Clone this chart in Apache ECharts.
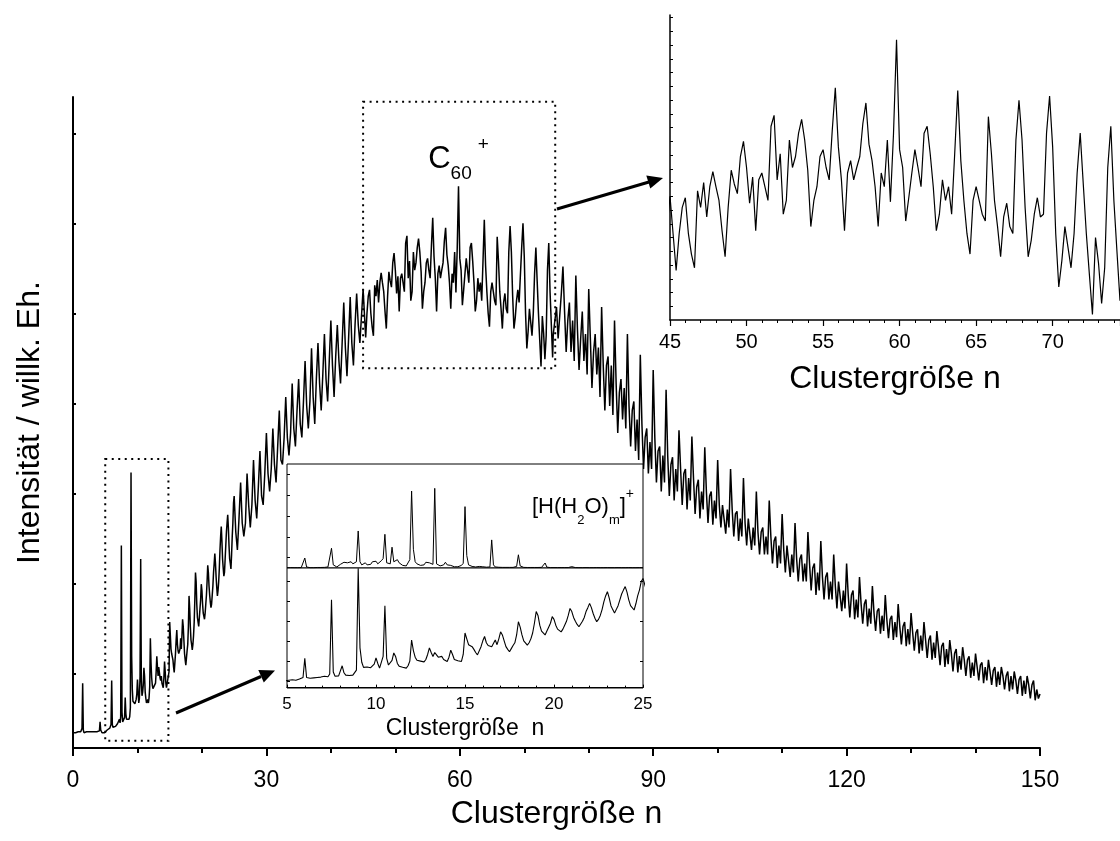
<!DOCTYPE html>
<html>
<head>
<meta charset="utf-8">
<script src="https://cdn.jsdelivr.net/npm/echarts@6/dist/echarts.min.js"></script>
<style>
  html, body { margin: 0; padding: 0; background: #fff; }
  #chart { width: 1120px; height: 841px; }
</style>
</head>
<body>
<div id="chart"></div>
<script>
// Carbon cluster cation spectrum, intensity (arb. units) against cluster size n.
// Each section is sampled on its own fixed n step.
const specA_start = 0.0, specA_step = 0.1;
const specA = [
  1.7, 1.6, 1.7, 1.8, 1.7, 1.6, 1.7, 1.7, 1.8, 1.7,
  1.6, 1.7, 1.8, 1.7, 2.2, 7.2, 2.0, 1.7, 1.6, 1.7,
  1.7, 1.8, 1.6, 1.7, 1.7, 1.8, 1.7, 1.6, 1.7, 1.8,
  1.7, 1.6, 1.7, 1.8, 1.7, 1.7, 1.6, 1.8, 1.7, 1.7,
  1.8, 1.9, 2.9, 2.0, 1.8, 1.7, 1.8, 1.9, 1.8, 1.7,
  1.8, 1.9, 1.8, 2.0, 2.1, 1.9, 2.0, 2.2, 2.1, 2.6,
  7.5, 2.6, 2.3, 2.4, 2.2, 2.5, 2.4, 2.6, 2.5, 2.7,
  2.6, 2.9, 3.2, 2.8, 3.5, 22.5, 4.0, 2.9, 2.8, 3.0,
  3.4, 5.6, 3.8, 3.2, 3.3, 3.1, 3.4, 3.2, 3.5, 4.5,
  30.6, 10.2, 6.5, 5.2, 5.0, 5.3, 4.9, 5.1, 5.4, 6.0,
  7.6, 6.2, 5.0, 5.5, 8.0, 21.0, 7.5, 5.8, 6.2, 7.0,
  8.9, 8.0, 6.2, 5.5, 5.0, 5.2, 5.4, 5.0, 5.6, 6.8,
  12.2, 9.5, 7.8, 7.0, 6.6, 6.8, 6.5, 6.6, 7.2, 8.5,
  10.2, 9.0, 8.0, 9.0, 8.4, 7.8, 7.5, 8.0, 7.2, 7.0,
  6.7, 7.8, 9.6, 8.5, 7.2, 6.7, 6.9, 6.6, 6.7, 8.5,
  14.0, 12.5, 11.0, 10.5, 10.5, 9.8, 9.0, 8.4, 8.6, 10.5,
  12.0, 13.1, 11.5, 10.8, 10.5, 10.5, 11.0, 12.2, 11.0, 12.5,
  14.3, 13.5, 12.0, 10.5, 9.8, 9.2, 10.0, 10.8, 11.5, 13.5,
  16.9, 15.5, 13.5, 12.0, 11.5, 10.9, 11.5, 12.5, 14.0, 16.5,
  19.5, 18.5, 16.0, 14.5, 14.0, 13.5, 14.5, 15.5, 16.5, 18.2,
  17.5, 16.0, 15.0, 14.8, 14.3, 15.0, 16.0, 17.0, 18.5, 20.3,
  19.5, 18.0, 17.0, 16.2, 15.6, 16.0, 17.0, 18.0, 19.5, 20.5,
  21.6, 20.5, 19.0, 17.8, 16.9, 17.5, 18.5, 20.0, 22.0, 23.5,
  24.6, 23.0, 21.0, 20.0, 19.1, 19.5, 21.0, 22.5, 24.0, 25.0,
  25.9, 24.5, 22.5, 21.0, 20.5, 19.9, 21.5, 23.5, 25.0, 27.2,
  28.0
];
const specB_start = 25.25, specB_step = 0.25;
const specB = [
  24.0, 22.0, 25.5, 29.5,  25.0, 23.5, 25.0, 30.5,  27.0, 24.5, 27.0, 32.0,
  27.5, 25.5, 29.0, 33.0,  28.0, 27.0, 30.5, 35.0,  30.5, 28.5, 31.0, 35.5,
  31.5, 29.5, 33.5, 37.5,  32.0, 31.5, 34.5, 39.0,  34.5, 32.5, 35.0, 40.5,
  35.5, 33.5, 37.5, 41.0,  36.0, 34.5, 38.5, 43.0,  38.0, 35.5, 38.5, 44.4,
  39.0, 36.0, 41.0, 45.0,  40.5, 37.5, 41.5, 46.0,  41.0, 38.5, 43.0, 47.5,
  42.5, 39.0, 43.5, 47.0,  43.0, 40.5, 45.0, 49.5,  44.5, 41.3, 45.5, 50.1,
  45.0, 42.5, 47.0, 50.5,  47.0, 45.0, 48.0, 51.0
];
const specC_start = 45.2, specC_step = 0.2;
const specC = [
  48.3, 45.6, 48.3, 50.2, 50.9, 48.3, 46.8, 45.8, 51.4, 50.2,
  52.0, 49.5, 51.7, 52.8, 51.7, 50.7, 48.5, 46.6, 50.2, 52.9,
  51.9, 51.2, 53.9, 55.0, 53.1, 50.5, 52.4, 48.5, 52.2, 52.7,
  51.7, 50.7, 56.1, 56.9, 52.2, 54.1, 49.7, 50.7, 55.1, 53.1,
  53.9, 55.6, 56.6, 55.1, 52.9, 48.8, 50.7, 51.7, 53.9, 54.4,
  53.1, 52.2, 55.8, 58.9, 54.6, 52.2, 48.5, 52.7, 53.6, 52.2,
  53.1, 53.9, 56.3, 57.8, 54.8, 53.6, 51.7, 48.8, 52.7, 51.7,
  55.1, 50.6, 55.5, 62.4, 54.4, 53.1, 49.2, 50.9, 52.7, 54.4,
  53.1, 51.7, 55.6, 56.1, 54.1, 51.7, 48.5, 49.7, 52.2, 50.7,
  51.7, 49.7, 54.1, 58.7, 53.6, 50.7, 48.3, 46.8, 50.7, 51.7,
  50.7, 49.7, 49.2, 56.8, 54.1, 50.7, 48.8, 46.6, 49.5, 50.5,
  48.8, 48.3, 55.1, 58.0, 55.1, 50.2, 46.6, 47.8, 49.7, 50.9,
  49.5, 49.7, 55.6, 58.3, 54.6, 48.3, 44.4, 46.3, 48.8, 47.3,
  45.8, 48.3, 52.7, 55.6, 51.9, 48.3, 45.3, 42.4, 48.0, 46.1,
  43.2, 45.8, 53.1, 56.1, 50.7, 47.0, 43.4
];
const specD_start = 74.5, specD_step = 0.25;
const specD = [
  46.0, 47.5, 49.0, 45.5, 48.0, 50.5,
  53.5, 48.5, 44.0, 47.5, 49.5, 44.0, 47.5, 43.0,
  52.5, 46.5, 42.0, 45.5, 48.5, 43.0, 46.0, 41.5,
  51.0, 45.5, 40.0, 44.0, 46.0, 41.5, 44.5, 39.0,
  49.0, 42.5, 37.5, 42.5, 43.5, 38.0, 42.5, 37.0,
  47.5, 40.5, 35.0, 39.5, 41.0, 36.5, 40.0, 35.5,
  46.0, 38.0, 33.5, 37.5, 38.5, 33.0, 36.5, 32.0,
  43.7, 36.0, 31.0, 34.5, 35.5, 30.5, 34.0, 31.0,
  42.0, 34.5, 29.5, 33.0, 33.5, 28.5, 32.5, 29.5,
  39.8, 32.5, 28.0, 31.5, 32.3, 27.5, 31.0, 28.5,
  35.3, 31.0, 27.0, 30.5, 31.0, 26.5, 30.0, 27.5,
  34.6, 30.0, 26.0, 29.0, 29.8, 25.5, 28.5, 26.5,
  33.4, 28.5, 25.0, 28.0, 28.5, 24.8, 27.5, 25.5,
  32.0, 27.0, 24.5, 27.0, 27.2, 23.8, 26.5, 24.5,
  31.0, 26.5, 23.5, 26.0, 26.3, 23.0, 25.5, 23.5,
  30.0, 25.0, 22.5, 25.5, 25.5, 22.0, 24.5, 22.5,
  28.5, 24.0, 21.5, 24.0, 24.5, 21.5, 23.5, 21.5,
  27.5, 23.5, 20.5, 23.0, 23.5, 20.0, 22.5, 20.5,
  26.0, 22.0, 19.5, 22.5, 22.5, 19.0, 21.5, 19.5,
  25.0, 21.0, 18.5, 21.0, 21.5, 18.5, 20.5, 18.5,
  24.0, 20.5, 17.5, 20.0, 20.5, 17.0, 19.5, 17.5,
  23.0, 19.0, 16.5, 19.0, 19.5, 16.5, 18.5, 16.5,
  21.5, 18.0, 15.5, 18.5, 18.5, 15.2, 17.5, 15.5,
  20.5, 17.0, 14.5, 17.0, 17.5, 14.3, 16.5, 14.5,
  19.0, 16.0, 13.8, 16.0, 16.5, 13.5, 15.5, 13.8,
  18.0, 15.0, 13.0, 15.2, 15.5, 12.7, 14.7, 13.0,
  17.0, 14.2, 12.2, 14.3, 14.7, 12.0, 14.0, 12.3,
  16.0, 13.5, 11.5, 13.5, 14.0, 11.3, 13.2, 11.5,
  15.0, 12.8, 10.8, 12.8, 13.2, 10.5, 12.5, 10.8,
  14.0, 12.0, 10.0, 12.0, 12.5, 9.8, 11.7, 10.0,
  13.0, 11.2, 9.2, 11.3, 11.7, 9.0, 11.0, 9.3,
  12.0, 10.5, 8.5, 10.5, 11.0, 8.4, 10.2, 8.7,
  11.2, 9.8, 8.0, 9.8, 10.2, 7.8, 9.5, 8.0,
  10.5, 9.0, 7.5, 9.2, 9.5, 7.2, 9.0, 7.5,
  9.8, 8.5, 7.0, 8.6, 9.0, 6.8, 8.5, 7.0,
  9.0, 8.0, 6.5, 8.0, 8.5, 6.3, 8.0, 6.5,
  8.5, 7.5, 6.0, 7.6, 8.0, 5.8, 7.5, 6.0,
  8.0, 7.0, 5.5, 7.0, 7.5, 5.3, 6.5, 5.5,
  6.0
];

// Protonated water clusters [H(H2O)m]+ on the same n scale
const waterStart = 5.0, waterStep = 0.1;
const water = [
  0.3, 0.3, 0.4, 0.3, 0.3, 0.4, 0.3, 0.3, 0.4, 0.5,
  9.6, 1.0, 0.4, 0.3, 0.4, 0.3, 0.4, 0.5, 0.4, 0.5,
  0.5, 0.6, 0.8, 1.0, 2.5, 19.0, 3.0, 1.2, 1.0, 1.5,
  3.5, 4.5, 5.5, 6.0, 5.0, 5.5, 6.0, 4.0, 3.0, 6.0,
  35.6, 6.0, 3.0, 3.5, 5.0, 3.0, 2.5, 3.5, 6.0, 5.0,
  6.5, 4.0, 5.5, 7.0, 9.0, 32.4, 5.0, 3.5, 4.0, 20.0,
  6.0, 7.5, 8.0, 5.0, 4.0, 2.5, 2.0, 2.0, 3.0, 8.0,
  74.0, 18.0, 6.0, 4.0, 3.0, 2.5, 2.0, 3.0, 5.5, 4.0,
  5.0, 4.5, 3.5, 76.6, 4.0, 2.5, 2.0, 2.0, 3.0, 5.5,
  3.0, 2.0, 2.5, 1.5, 1.2, 1.0, 1.2, 1.5, 2.5, 4.5,
  59.0, 12.0, 3.0, 2.0, 1.5, 1.0, 1.0, 1.2, 1.5, 2.5,
  1.2, 1.0, 0.8, 0.8, 1.0, 27.0, 3.0, 1.0, 0.8, 0.7,
  0.6, 0.6, 0.5, 0.6, 0.5, 0.6, 0.5, 0.6, 0.8, 1.5,
  12.7, 2.0, 0.8, 0.6, 0.5, 0.5, 0.4, 0.5, 0.4, 0.5,
  0.4, 0.5, 0.4, 0.6, 1.0, 4.8, 0.8, 0.5, 0.4, 0.4,
  0.4, 0.3, 0.4, 0.3, 0.4, 0.3, 0.4, 0.3, 0.4, 0.5,
  1.3, 0.5, 0.4, 0.3, 0.3, 0.4, 0.3, 0.3, 0.4, 0.3,
  0.3, 0.4, 0.3, 0.3, 0.4, 0.3, 0.3, 0.4, 0.3, 0.3,
  0.4, 0.3, 0.3, 0.4, 0.3, 0.3, 0.4, 0.3, 0.3, 0.4,
  0.3, 0.3, 0.4, 0.3, 0.3, 0.4, 0.3, 0.3, 0.4, 0.3,
  0.3
];
// Water cluster peaks (position n) and their size m
const waterPeakN = [6.0, 7.5, 9.0, 10.5, 12.0, 13.5, 15.0, 16.5, 18.0];
const waterPeakM = [4, 5, 6, 7, 8, 9, 10, 11, 12];

// Fullerene peak
const c60N = 59.8;

// Enlarged ranges [nMin, nMax, intensityMin, intensityMax]
const zoomC60 = [45, 74.8, 42.2, 71.8];
const zoomLow = [5, 14.8, 0.8, 32.1];

function sampled(start, step, values) {
  return values.map((v, i) => [Math.round((start + i * step) * 100) / 100, v]);
}
function pointAt(data, n) {
  let best = data[0];
  for (const p of data) if (Math.abs(p[0] - n) < Math.abs(best[0] - n)) best = p;
  return best;
}

const spectrum = [].concat(
  sampled(specA_start, specA_step, specA),
  sampled(specB_start, specB_step, specB),
  sampled(specC_start, specC_step, specC),
  sampled(specD_start, specD_step, specD)
);
const waterSpec = sampled(waterStart, waterStep, water);

const FONT = '"Liberation Sans", Arial, sans-serif';
const BLACK = '#000';

function range(a, b, s) { const r = []; for (let v = a; v <= b + 1e-9; v += s) r.push(Math.round(v * 100) / 100); return r; }

const chart = echarts.init(document.getElementById('chart'), null, { renderer: 'canvas' });

const hiddenAxis = { axisLine: { show: false }, axisTick: { show: false }, axisLabel: { show: false }, splitLine: { show: false } };

const option = {
  animation: false,
  backgroundColor: '#fff',
  textStyle: { fontFamily: FONT, color: BLACK },
  title: [{
    text: '{t|[H(H}{s|2}{t|O)}{s|m}{t|]}{p|+}',
    left: 527, top: 482, zlevel: 1, z: 10,
    textStyle: {
      fontWeight: 'normal',
      rich: {
        t: { fontSize: 22, fontWeight: 'normal', fontFamily: FONT, color: BLACK, lineHeight: 40 },
        s: { fontSize: 13, fontWeight: 'normal', fontFamily: FONT, color: BLACK, lineHeight: 15, verticalAlign: 'bottom' },
        p: { fontSize: 14, fontWeight: 'normal', fontFamily: FONT, color: BLACK, lineHeight: 20, verticalAlign: 'top' }
      }
    }
  }],
  grid: [
    { left: 73, top: 97, width: 967, height: 651, outerBoundsMode: 'none' },
    { left: 670, top: 15, width: 450, height: 305, show: true, backgroundColor: '#fff', borderWidth: 0, zlevel: 1, outerBoundsMode: 'none' },
    { left: 287, top: 464, width: 356, height: 104, show: true, backgroundColor: '#fff', borderColor: BLACK, borderWidth: 1, zlevel: 1, outerBoundsMode: 'none' },
    { left: 287, top: 568, width: 356, height: 120, show: true, backgroundColor: '#fff', borderColor: BLACK, borderWidth: 1, zlevel: 1, outerBoundsMode: 'none' }
  ],
  xAxis: [
    {
      gridIndex: 0, type: 'value', min: 0, max: 150, interval: 30,
      axisLine: { lineStyle: { color: BLACK, width: 2 } },
      axisTick: { length: 8, lineStyle: { color: BLACK, width: 2 } },
      minorTick: { show: true, splitNumber: 3, length: 5, lineStyle: { color: BLACK, width: 2 } },
      axisLabel: { fontSize: 23, color: BLACK, fontFamily: FONT, margin: 21 },
      splitLine: { show: false }, minorSplitLine: { show: false },
      name: 'Clustergröße n', nameLocation: 'middle', nameGap: 50,
      nameTextStyle: { fontSize: 32, color: BLACK, fontFamily: FONT }
    },
    {
      gridIndex: 1, type: 'value', min: 45, max: 74.4, interval: 5, zlevel: 1,
      axisLine: { lineStyle: { color: BLACK, width: 1.5 } },
      axisTick: { length: 6, lineStyle: { color: BLACK, width: 1.2 } },
      minorTick: { show: true, splitNumber: 5, length: 3, lineStyle: { color: BLACK, width: 1 } },
      axisLabel: { fontSize: 20, color: BLACK, fontFamily: FONT, margin: 12, showMaxLabel: false },
      splitLine: { show: false }, minorSplitLine: { show: false },
      name: 'Clustergröße n', nameLocation: 'middle', nameGap: 43,
      nameTextStyle: { fontSize: 32, color: BLACK, fontFamily: FONT }
    },
    Object.assign({ gridIndex: 2, type: 'value', min: 5, max: 25, zlevel: 1 }, hiddenAxis),
    {
      gridIndex: 3, type: 'value', min: 5, max: 25, interval: 5, zlevel: 1,
      axisLine: { lineStyle: { color: BLACK, width: 1 } },
      axisTick: { inside: true, length: 3, lineStyle: { color: BLACK, width: 1 } },
      minorTick: { show: true, splitNumber: 5, length: 2, lineStyle: { color: BLACK, width: 1 } },
      axisLabel: { fontSize: 17, color: BLACK, fontFamily: FONT, margin: 8 },
      splitLine: { show: false }, minorSplitLine: { show: false },
      name: 'Clustergröße  n', nameLocation: 'middle', nameGap: 29,
      nameTextStyle: { fontSize: 23, color: BLACK, fontFamily: FONT }
    }
  ],
  yAxis: [
    {
      gridIndex: 0, type: 'value', min: 0, max: 72.33,
      axisLine: { show: true, lineStyle: { color: BLACK, width: 2 } },
      axisTick: { show: true, inside: true, length: 3, customValues: range(8.2, 68.2, 10), lineStyle: { color: BLACK, width: 2 } },
      axisLabel: { show: false }, splitLine: { show: false },
      name: 'Intensität / willk. Eh.', nameLocation: 'middle', nameGap: 27,
      nameTextStyle: { fontSize: 32, color: BLACK, fontFamily: FONT }
    },
    {
      gridIndex: 1, type: 'value', min: 42, max: 64.2, zlevel: 1,
      axisLine: { show: true, lineStyle: { color: BLACK, width: 1.5 } },
      axisTick: { show: true, inside: true, length: 3, customValues: range(43, 64, 1), lineStyle: { color: BLACK, width: 1 } },
      axisLabel: { show: false }, splitLine: { show: false }
    },
    {
      gridIndex: 2, type: 'value', min: 0, max: 100, zlevel: 1,
      axisLine: { show: false },
      axisTick: { show: true, inside: true, length: 3, customValues: [10, 30, 50, 70, 90], lineStyle: { color: BLACK, width: 1 } },
      axisLabel: { show: false }, splitLine: { show: false }
    },
    {
      gridIndex: 3, type: 'value', min: -0.1, max: 30.67, zlevel: 1,
      axisLine: { show: false },
      axisTick: { show: true, inside: true, length: 3, customValues: [1.6, 6.7, 11.9, 17.0, 22.1, 27.2], lineStyle: { color: BLACK, width: 1 } },
      axisLabel: { show: false }, splitLine: { show: false }
    },
    {
      gridIndex: 3, type: 'value', position: 'right', min: -0.1, max: 30.67, zlevel: 1,
      axisLine: { show: false },
      axisTick: { show: true, inside: true, length: 3, customValues: [6.7, 17.0, 27.2], lineStyle: { color: BLACK, width: 1 } },
      axisLabel: { show: false }, splitLine: { show: false }
    }
  ],
  series: [
    {
      name: 'Spektrum', type: 'line', xAxisIndex: 0, yAxisIndex: 0,
      data: spectrum, showSymbol: false, symbol: 'none',
      lineStyle: { color: BLACK, width: 1.5 },
      markArea: {
        silent: true,
        itemStyle: { color: 'rgba(0,0,0,0)', borderColor: BLACK, borderWidth: 2, borderType: [2, 4.5] },
        data: [
          [{ coord: [zoomC60[0], zoomC60[3]] }, { coord: [zoomC60[1], zoomC60[2]] }],
          [{ coord: [zoomLow[0], zoomLow[3]] }, { coord: [zoomLow[1], zoomLow[2]] }]
        ]
      },
      markPoint: {
        silent: true, symbol: 'circle', symbolSize: 0,
        itemStyle: { color: 'rgba(0,0,0,0)' },
        label: {
          show: true, position: 'top', distance: 3,
          formatter: '{c|C}{s|60}{p|+}',
          rich: {
            c: { fontSize: 31, fontFamily: FONT, color: BLACK, lineHeight: 48 },
            s: { fontSize: 19, fontFamily: FONT, color: BLACK, lineHeight: 19, verticalAlign: 'bottom' },
            p: { fontSize: 19, fontFamily: FONT, color: BLACK, lineHeight: 19, verticalAlign: 'top', padding: [0, 0, 0, 6] }
          }
        },
        data: [{ coord: pointAt(spectrum, c60N) }]
      }
    },
    {
      name: 'Ausschnitt C60', type: 'line', xAxisIndex: 1, yAxisIndex: 1, zlevel: 1,
      data: spectrum, showSymbol: false, symbol: 'none', clip: true,
      lineStyle: { color: BLACK, width: 1.2 }
    },
    {
      name: 'Wasser', type: 'line', xAxisIndex: 2, yAxisIndex: 2, zlevel: 1,
      data: waterSpec, showSymbol: false, symbol: 'none', clip: true,
      lineStyle: { color: BLACK, width: 1 },
      markPoint: {
        silent: true, symbol: 'circle', symbolSize: 0,
        itemStyle: { color: 'rgba(0,0,0,0)' },
        label: { show: true, position: 'top', distance: 2, fontSize: 17, fontFamily: FONT, color: BLACK },
        data: waterPeakN.map((n, i) => ({
          coord: pointAt(waterSpec, n),
          label: { formatter: String(waterPeakM[i]) }
        }))
      }
    },
    {
      name: 'Ausschnitt klein', type: 'line', xAxisIndex: 3, yAxisIndex: 3, zlevel: 1,
      data: spectrum, showSymbol: false, symbol: 'none', clip: true,
      lineStyle: { color: BLACK, width: 1.1 }
    }
  ],
  graphic: [
    { type: 'line', shape: { x1: 557, y1: 209, x2: 649, y2: 182 }, style: { stroke: BLACK, lineWidth: 3 } },
    { type: 'polygon', shape: { points: [[663, 178], [650.3, 188.5], [646.3, 175.5]] }, style: { fill: BLACK } },
    { type: 'line', shape: { x1: 176, y1: 713, x2: 261, y2: 676.5 }, style: { stroke: BLACK, lineWidth: 3 } },
    { type: 'polygon', shape: { points: [[275, 670.5], [263.8, 682.5], [258.3, 670]] }, style: { fill: BLACK } }
  ]
};

chart.setOption(option);
</script>
</body>
</html>
